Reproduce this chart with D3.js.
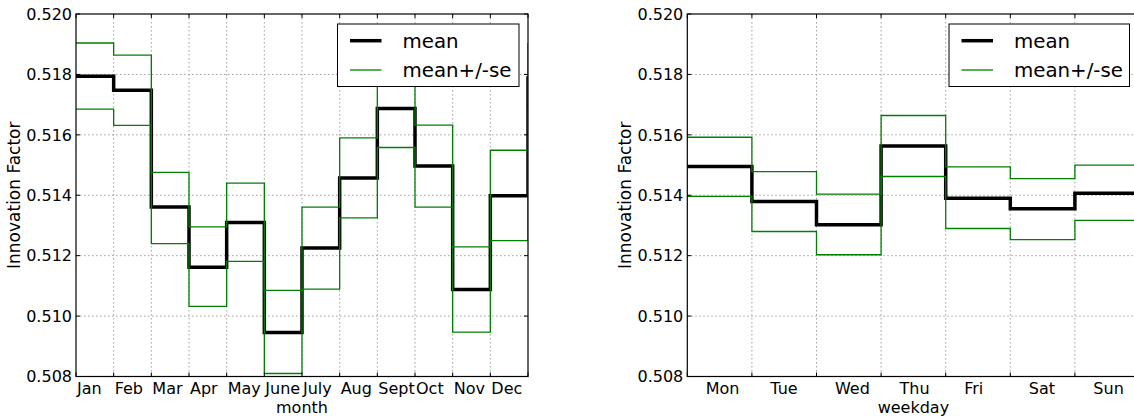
<!DOCTYPE html>
<html>
<head>
<meta charset="utf-8">
<script src="https://cdn.jsdelivr.net/npm/d3@7"></script>
<style>
  html, body { margin: 0; padding: 0; background: #fff; }
  svg { display: block; font-family: "DejaVu Sans", sans-serif; }
</style>
</head>
<body>
<svg id="chart" width="1134" height="420"></svg>
<script>
const months = ["Jan","Feb","Mar","Apr","May","June","July","Aug","Sept","Oct","Nov","Dec"];
const monthMean  = [0.51794,0.51748,0.51361,0.51162,0.51310,0.50946,0.51225,0.51457,0.51687,0.51497,0.51088,0.51398];
const monthUpper = [0.51904,0.51864,0.51476,0.51295,0.51440,0.51085,0.51361,0.51590,0.51820,0.51632,0.51229,0.51549];
const monthLower = [0.51685,0.51631,0.51240,0.51032,0.51181,0.50810,0.51089,0.51325,0.51558,0.51361,0.50947,0.51250];

const weekdays = ["Mon","Tue","Wed","Thu","Fri","Sat","Sun"];
const dayMean  = [0.51495,0.51379,0.51302,0.51563,0.51390,0.51355,0.51407];
const dayUpper = [0.51592,0.51478,0.51404,0.51664,0.51494,0.51455,0.51500];
const dayLower = [0.51396,0.51280,0.51203,0.51462,0.51290,0.51253,0.51317];

const yTicks = [0.508,0.510,0.512,0.514,0.516,0.518,0.520];
const legendLabels = ["mean","mean+/-se"];

const svg = d3.select("#chart");
const GREEN = "#008000";

function panel(opts) {
  const {x0, x1, y0, y1, cats, mean, upper, lower, xlabel, labelOffset, legend, id} = opts;
  const n = cats.length;
  const x = d3.scaleLinear().domain([0, n]).range([x0, x1]);
  const y = d3.scaleLinear().domain([0.508, 0.520]).range([y1, y0]);
  const g = svg.append("g");

  g.append("clipPath").attr("id", id).append("rect")
    .attr("x", x0).attr("y", y0).attr("width", x1 - x0).attr("height", y1 - y0);

  // grid
  const grid = g.append("g");
  grid.selectAll("line.h").data(yTicks.slice(1, -1)).enter().append("line")
    .attr("x1", x0).attr("x2", x1).attr("y1", d => y(d)).attr("y2", d => y(d))
    .attr("stroke", "#888").attr("stroke-width", 0.8).attr("stroke-dasharray", "1.5,2.5");
  grid.selectAll("line.v").data(d3.range(1, n)).enter().append("line")
    .attr("y1", y0).attr("y2", y1).attr("x1", d => x(d)).attr("x2", d => x(d))
    .attr("stroke", "#888").attr("stroke-width", 0.8).attr("stroke-dasharray", "1.5,2.5");

  // lines
  const line = d3.line().curve(d3.curveStepAfter).x((d, i) => x(i)).y(d => y(d));
  const wrap = arr => arr.concat([arr[0]]);
  const lines = g.append("g").attr("clip-path", `url(#${id})`);
  lines.append("path").attr("d", line(wrap(mean))).attr("fill", "none")
    .attr("stroke", "#000").attr("stroke-width", 3.5);
  lines.append("path").attr("d", line(wrap(upper))).attr("fill", "none")
    .attr("stroke", GREEN).attr("stroke-width", 1.3);
  lines.append("path").attr("d", line(wrap(lower))).attr("fill", "none")
    .attr("stroke", GREEN).attr("stroke-width", 1.3);

  // ticks (inward)
  const tk = g.append("g").attr("stroke", "#000").attr("stroke-width", 1);
  yTicks.forEach(t => {
    tk.append("line").attr("x1", x0).attr("x2", x0 + 4).attr("y1", y(t)).attr("y2", y(t));
    tk.append("line").attr("x1", x1).attr("x2", x1 - 4).attr("y1", y(t)).attr("y2", y(t));
  });
  d3.range(0, n + 1).forEach(t => {
    tk.append("line").attr("y1", y1).attr("y2", y1 - 4).attr("x1", x(t)).attr("x2", x(t));
    tk.append("line").attr("y1", y0).attr("y2", y0 + 4).attr("x1", x(t)).attr("x2", x(t));
  });

  // frame
  g.append("rect").attr("x", x0).attr("y", y0).attr("width", x1 - x0).attr("height", y1 - y0)
    .attr("fill", "none").attr("stroke", "#000").attr("stroke-width", 1.2);

  // y tick labels
  g.selectAll("text.yt").data(yTicks).enter().append("text")
    .attr("x", x0 - 4).attr("y", d => y(d)).attr("dy", "0.36em")
    .attr("text-anchor", "end").attr("font-size", 16).attr("fill", "#000")
    .text(d => d3.format(".3f")(d));

  // x tick labels (left-aligned)
  g.selectAll("text.xt").data(cats).enter().append("text")
    .attr("x", (d, i) => x(i + labelOffset) + 1)
    .attr("y", y1 + 17)
    .attr("text-anchor", "start")
    .attr("font-size", 16).attr("fill", "#000")
    .text(d => d);

  // axis labels
  g.append("text").attr("x", (x0 + x1) / 2).attr("y", y1 + 36)
    .attr("text-anchor", "middle").attr("font-size", 16).text(xlabel);
  g.append("text").attr("transform", `translate(${x0 - 56},${(y0 + y1) / 2}) rotate(-90)`)
    .attr("text-anchor", "middle").attr("font-size", 17)
    .text("Innovation Factor");

  // legend
  const lg = g.append("g");
  lg.append("rect").attr("x", legend.x).attr("y", legend.y).attr("width", legend.w).attr("height", legend.h)
    .attr("fill", "#fff").attr("stroke", "#000").attr("stroke-width", 1);
  const rows = [{c: "#000", w: 3.5}, {c: GREEN, w: 1.3}];
  legendLabels.forEach((lab, i) => {
    const ry = legend.y + 16.7 + i * 29.3;
    lg.append("line").attr("x1", legend.x + 12.5).attr("x2", legend.x + 44)
      .attr("y1", ry).attr("y2", ry).attr("stroke", rows[i].c).attr("stroke-width", rows[i].w);
    lg.append("text").attr("x", legend.x + 65).attr("y", ry).attr("dy", "0.36em")
      .attr("font-size", 19.8).attr("fill", "#000").text(lab);
  });
}

panel({
  id: "clipL", x0: 76, x1: 528, y0: 14, y1: 376.5,
  cats: months, mean: monthMean, upper: monthUpper, lower: monthLower,
  xlabel: "month", labelOffset: 0,
  legend: {x: 337.5, y: 24, w: 181.5, h: 62.5}
});
panel({
  id: "clipR", x0: 687.3, x1: 1139.5, y0: 14, y1: 376.5,
  cats: weekdays, mean: dayMean, upper: dayUpper, lower: dayLower,
  xlabel: "weekday", labelOffset: 0.27,
  legend: {x: 949, y: 24, w: 180.5, h: 62.5}
});
</script>
</body>
</html>
